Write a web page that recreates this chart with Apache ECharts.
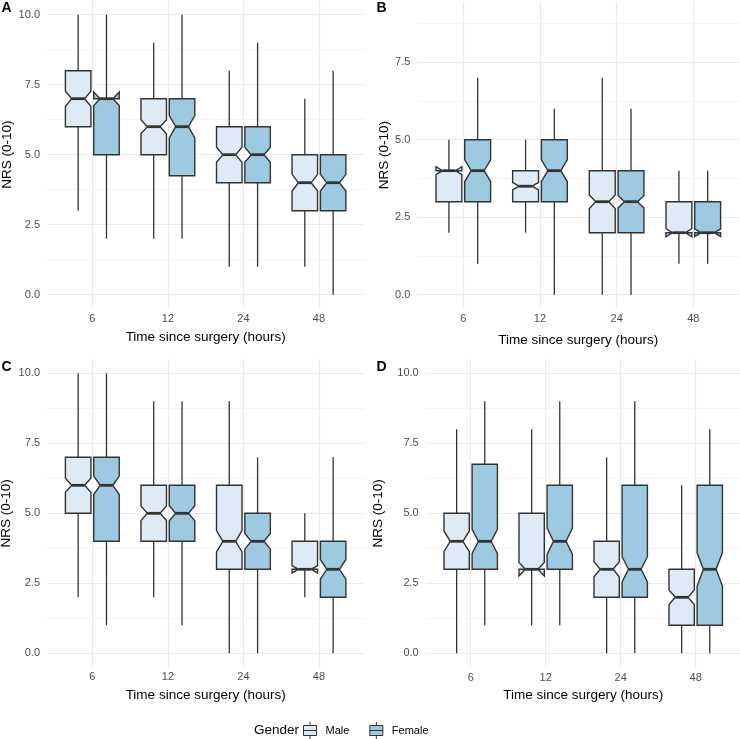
<!DOCTYPE html>
<html><head><meta charset="utf-8">
<script src="https://cdn.jsdelivr.net/npm/echarts@6/dist/echarts.min.js"></script>
<style>html,body{margin:0;padding:0;background:#fff}#c{width:740px;height:739px}</style>
</head><body><div id="c"></div>
<script>
// ---------- data ----------
const categories = ['6', '12', '24', '48'];
const panelLetters = ['A', 'B', 'C', 'D'];
const genders = ['Male', 'Female'];
const yTicksFull = [0, 2.5, 5, 7.5, 10];
const yTicksB = [0, 2.5, 5, 7.5];
const yMinorFull = [1.25, 3.75, 6.25, 8.75];
const yMinorB = [1.25, 3.75, 6.25, 8.75];

// each row: [lower whisker, Q1, median, Q3, upper whisker]
const aMale   = [[3, 6, 7, 8, 10], [2, 5, 6, 7, 9], [1, 4, 5, 6, 8], [1, 3, 4, 5, 7]];
const aFemale = [[2, 5, 7, 7, 10], [2, 4.25, 6, 7, 10], [1, 4, 5, 6, 9], [0, 3, 4, 5, 8]];
const bMale   = [[2, 3, 4, 4, 5], [2, 3, 3.5, 4, 5], [0, 2, 3, 4, 7], [1, 2, 2, 3, 4]];
const bFemale = [[1, 3, 4, 5, 7], [0, 3, 4, 5, 6], [0, 2, 3, 4, 6], [1, 2, 2, 3, 4]];
const cMale   = [[2, 5, 6, 7, 10], [2, 4, 5, 6, 9], [0, 3, 4, 6, 9], [2, 3, 3, 4, 5]];
const cFemale = [[1, 4, 6, 7, 10], [1, 4, 5, 6, 9], [0, 3, 4, 5, 7], [0, 2, 3, 4, 7]];
const dMale   = [[0, 3, 4, 5, 8], [1, 3, 3, 5, 8], [0, 2, 3, 4, 7], [0, 1, 2, 3, 6]];
const dFemale = [[1, 3, 4, 6.75, 9], [1, 3, 4, 6, 9], [0, 2, 3, 6, 9], [0, 1, 3, 6, 8]];

// notch half-height (median +/- value)
const aMaleNotch   = [0.27, 0.25, 0.27, 0.30];
const aFemaleNotch = [0.24, 0.40, 0.27, 0.30];
const bMaleNotch   = [0.13, 0.12, 0.22, 0.13];
const bFemaleNotch = [0.35, 0.35, 0.20, 0.12];
const cMaleNotch   = [0.25, 0.26, 0.38, 0.13];
const cFemaleNotch = [0.33, 0.27, 0.28, 0.35];
const dMaleNotch   = [0.37, 0.24, 0.27, 0.26];
const dFemaleNotch = [0.43, 0.47, 0.45, 0.60];

// ---------- layout / style ----------
const FONT = 'Liberation Sans, Arial, Helvetica, sans-serif';
const fills = ['#DEEBF7', '#9ECAE1'];
const offsets = [-0.1875, 0.1875];
const HALF_W = 0.16875;
const panels = [
  { male: aMale, female: aFemale, mN: aMaleNotch, fN: aFemaleNotch, yMin: -0.5, yMax: 10.5, ticks: yTicksFull, minor: yMinorFull,
    grid: { left: 47, top: 0.7, width: 317.3, height: 308 }, yGap: 32, xGap: 21.3, lm: 5, lp: [1.5, 1] },
  { male: bMale, female: bFemale, mN: bMaleNotch, fN: bFemaleNotch, yMin: -0.45, yMax: 9.45, ticks: yTicksB, minor: yMinorB,
    grid: { left: 417.3, top: 1.75, width: 322, height: 306.9 }, yGap: 25.5, xGap: 24.6, lm: 5, lp: [376.5, 1] },
  { male: cMale, female: cFemale, mN: cMaleNotch, fN: cFemaleNotch, yMin: -0.5, yMax: 10.5, ticks: yTicksFull, minor: yMinorFull,
    grid: { left: 47, top: 359.3, width: 317.3, height: 308 }, yGap: 33.5, xGap: 21, lm: 4.5, lp: [1.5, 360.5] },
  { male: dMale, female: dFemale, mN: dMaleNotch, fN: dFemaleNotch, yMin: -0.5, yMax: 10.5, ticks: yTicksFull, minor: yMinorFull,
    grid: { left: 425.7, top: 359.3, width: 315, height: 308 }, yGap: 40.6, xGap: 21, lm: 5, lp: [376.5, 360.5] }
];

function makeRender(offset) {
  return function (params, api) {
    const x = api.value(0) + offset;
    const lo = api.value(1), q1 = api.value(2), md = api.value(3), q3 = api.value(4), hi = api.value(5), n = api.value(6);
    const ind = HALF_W * 0.5;
    const xl = x - HALF_W, xr = x + HALF_W;
    const nu = md + n, nl = md - n;
    const c = p => api.coord(p);
    const pts = [[xl, q3], [xl, nu], [xl + ind, md], [xl, nl], [xl, q1], [xr, q1], [xr, nl], [xr - ind, md], [xr, nu], [xr, q3]].map(c);
    const w1 = c([x, q3]), w2 = c([x, hi]), w3 = c([x, lo]), w4 = c([x, q1]);
    const m1 = c([xl + ind, md]), m2 = c([xr - ind, md]);
    return {
      type: 'group',
      children: [
        { type: 'line', shape: { x1: w1[0], y1: w1[1], x2: w2[0], y2: w2[1] }, style: { stroke: '#333', lineWidth: 1.3 } },
        { type: 'line', shape: { x1: w3[0], y1: w3[1], x2: w4[0], y2: w4[1] }, style: { stroke: '#333', lineWidth: 1.3 } },
        { type: 'polygon', shape: { points: pts }, style: { fill: api.visual('color'), stroke: '#333', lineWidth: 1.4, lineJoin: 'miter' } },
        { type: 'line', shape: { x1: m1[0], y1: m1[1], x2: m2[0], y2: m2[1] }, style: { stroke: '#333', lineWidth: 2.8 } }
      ]
    };
  };
}

const grid = [], xAxis = [], yAxis = [], series = [], title = [];
panels.forEach((p, i) => {
  grid.push(Object.assign({ outerBoundsMode: 'none', containLabel: false }, p.grid));
  xAxis.push({
    gridIndex: i, type: 'value', min: 0.4, max: 4.6,
    name: 'Time since surgery (hours)', nameLocation: 'middle', nameGap: p.xGap,
    nameTextStyle: { fontSize: 13.5, color: '#000', fontFamily: FONT },
    axisLine: { show: false }, axisTick: { show: false, customValues: [1, 2, 3, 4] },
    axisLabel: { customValues: [1, 2, 3, 4], formatter: v => categories[Math.round(v) - 1], fontSize: 11, color: '#4d4d4d', margin: p.lm, fontFamily: FONT },
    splitLine: { show: true, lineStyle: { color: '#ebebeb', width: 1.1 } }
  });
  yAxis.push({
    gridIndex: i, type: 'value', min: p.yMin, max: p.yMax,
    name: 'NRS (0-10)', nameLocation: 'middle', nameRotate: 90, nameGap: p.yGap,
    nameTextStyle: { fontSize: 13.5, color: '#000', fontFamily: FONT },
    axisLine: { show: false }, axisTick: { show: false, customValues: p.ticks },
    axisLabel: { customValues: p.ticks, formatter: v => v.toFixed(1), fontSize: 11, color: '#4d4d4d', margin: 7, fontFamily: FONT },
    splitLine: { show: true, lineStyle: { color: '#ebebeb', width: 1.1 } }
  });
  yAxis.push({
    gridIndex: i, type: 'value', min: p.yMin, max: p.yMax, position: 'left',
    axisLine: { show: false }, axisTick: { show: false, customValues: p.minor },
    axisLabel: { show: false, customValues: p.minor },
    splitLine: { show: true, lineStyle: { color: '#f3f3f3', width: 0.8 } }
  });
  [p.male, p.female].forEach((stats, g) => {
    const notch = g === 0 ? p.mN : p.fN;
    series.push({
      type: 'custom', name: genders[g], xAxisIndex: i, yAxisIndex: 2 * i,
      itemStyle: { color: fills[g], borderColor: '#333' },
      renderItem: makeRender(offsets[g]),
      encode: { x: 0, y: [1, 2, 3, 4, 5] },
      data: stats.map((s, k) => [k + 1].concat(s, [notch[k]])),
      z: 5
    });
  });
  title.push({ text: panelLetters[i], left: p.lp[0], top: p.lp[1], padding: 0,
    textStyle: { fontSize: 14, fontWeight: 'bold', color: '#000', fontFamily: FONT } });
});
title.push({ text: 'Gender', left: 254, top: 723.5, padding: 0,
  textStyle: { fontSize: 13.5, fontWeight: 'normal', color: '#000', fontFamily: FONT } });

const chart = echarts.init(document.getElementById('c'), null, { renderer: 'canvas' });
chart.setOption({
  animation: false,
  backgroundColor: '#fff',
  textStyle: { fontFamily: FONT },
  title: title,
  legend: {
    data: genders, left: 303, top: 721.5, padding: 0, itemWidth: 21, itemHeight: 17, itemGap: 20,
    selectedMode: false,
    icon: 'path://M0,3.5L13,3.5L13,13.5L0,13.5Z M6.5,0L6.5,3.5 M6.5,13.5L6.5,17 M0,8.5L13,8.5',
    itemStyle: { borderColor: '#333', borderWidth: 1 },
    textStyle: { fontSize: 11, color: '#000', fontFamily: FONT }
  },
  grid: grid, xAxis: xAxis, yAxis: yAxis, series: series
});
</script></body></html>
